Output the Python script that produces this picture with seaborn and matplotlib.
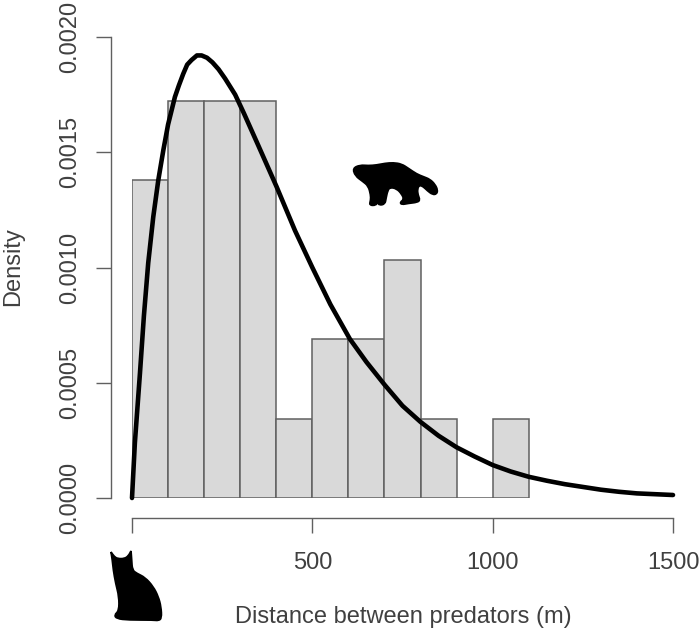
import numpy as np
import pandas as pd
import seaborn as sns
import matplotlib.pyplot as plt
from matplotlib.patches import PathPatch
from matplotlib.path import Path

# histogram: counts in 100 m bins
bin_edges = [0, 100, 200, 300, 400, 500, 600, 700, 800, 900, 1000, 1100]
bin_counts = [4, 5, 5, 5, 1, 2, 2, 3, 1, 0, 1]

# fitted curve
curve_x = [0, 4, 8, 15, 22, 33, 45, 59, 73, 87, 100, 119, 130, 142, 153, 165, 180, 193, 208, 223, 240, 258,
           286, 310, 350, 401, 452, 500, 550, 604, 650, 701, 750, 800, 850, 900, 950, 1000,
           1050, 1100, 1150, 1200, 1250, 1300, 1350, 1400, 1500]
curve_y = [0, 0.00012, 0.00024, 0.00039, 0.00054, 0.00079, 0.00102, 0.00122, 0.00138, 0.00151,
           0.00162, 0.00174, 0.00179, 0.00184, 0.00188, 0.00190, 0.00192, 0.00192, 0.00191, 0.00189, 0.00186,
           0.00182, 0.00175, 0.00167, 0.00153, 0.00135, 0.00116, 0.00100, 0.00084, 0.00069,
           0.00059, 0.00049, 0.00040, 0.00033, 0.00027, 0.00022, 0.00018, 0.000143, 0.000115,
           0.000092, 0.000075, 0.00006, 0.000048, 0.000036, 0.000027, 0.00002, 0.000013]

x_ticks = [0, 500, 1000, 1500]
x_tick_labels = ['', '500', '1000', '1500']
y_ticks = [0, 0.0005, 0.0010, 0.0015, 0.0020]
y_tick_labels = ['0.0000', '0.0005', '0.0010', '0.0015', '0.0020']

# silhouette outlines in image pixels x3, duplicates keep a corner sharp
wolverine = [(38, 55), (60, 45), (85, 47), (110, 45), (135, 40), (160, 38), (185, 42), (205, 55),
             (230, 72), (250, 80), (270, 88), (285, 103), (293, 120), (290, 132), (278, 134),
             (262, 122), (250, 110), (238, 105), (232, 118), (234, 135), (240, 150), (232, 157),
             (205, 160), (185, 164), (180, 157), (192, 148), (185, 132), (170, 116), (150, 112),
             (143, 122), (138, 145), (135, 162), (118, 166), (112, 156), (108, 166), (88, 166),
             (92, 150), (92, 135), (85, 108), (68, 94), (46, 78)]
lynx = [(48, 36), (48, 36), (58, 50), (68, 56), (88, 56), (100, 48), (108, 33), (108, 33), (110, 60),
        (112, 90), (125, 100), (150, 112), (175, 140), (190, 170), (198, 200), (200, 235), (190, 242),
        (175, 240), (100, 240), (65, 236), (58, 225), (72, 212), (72, 170), (62, 130), (55, 90), (52, 60)]

W, H = 700, 633
sns.set_style('white')
plt.rcParams['font.family'] = ['Liberation Sans', 'DejaVu Sans']
text_col = '#404040'
line_col = '#606060'

fig = plt.figure(figsize=(W / 100, H / 100), dpi=100)
ax = fig.add_axes([132 / W, 1 - 498 / H, (673 - 132) / W, (498 - 37) / H])
ax.patch.set_alpha(0)

centres = [(a + b) / 2 for a, b in zip(bin_edges[:-1], bin_edges[1:])]
hist = pd.DataFrame({'dist': centres, 'n': bin_counts})
sns.histplot(data=hist, x='dist', weights='n', bins=bin_edges, stat='density', ax=ax,
             color='#d9d9d9', edgecolor=line_col, linewidth=1.1, alpha=1)

curve = pd.DataFrame({'x': curve_x, 'y': curve_y})
sns.lineplot(data=curve, x='x', y='y', ax=ax, color='black', linewidth=3.3, errorbar=None)
for l in ax.lines:
    l.set_clip_on(False)
    l.set_solid_capstyle('round')
    l.set_solid_joinstyle('round')

ax.set_xlim(0, 1500)
ax.set_ylim(0, 0.002)
sns.despine(ax=ax)
ax.spines['left'].set_position(('outward', 21.5 * 0.72))
ax.spines['bottom'].set_position(('outward', 19.5 * 0.72))
ax.spines['left'].set_bounds(0, 0.002)
ax.spines['bottom'].set_bounds(0, 1500)
for s in ['left', 'bottom']:
    ax.spines[s].set_color(line_col)
    ax.spines[s].set_linewidth(1.0)

ax.set_xticks(x_ticks)
ax.set_xticklabels(x_tick_labels, fontsize=17, color=text_col)
ax.set_yticks(y_ticks)
ax.set_yticklabels(y_tick_labels, fontsize=17, color=text_col, rotation=90, va='center')
ax.tick_params(axis='x', bottom=True, length=10.5, width=1.0, color=line_col, pad=14)
ax.tick_params(axis='y', left=True, length=10.5, width=1.0, color=line_col, pad=10.5)
ax.set_xlabel('')
ax.set_ylabel('')

fig.text(403 / W, 1 - 617.5 / H, 'Distance between predators (m)', fontsize=17, color=text_col,
         ha='center', va='center')
fig.text(13 / W, 1 - 267 / H, 'Density', fontsize=17, color=text_col, rotation=90,
         ha='center', va='center')


def silhouette(points, x0, y0):
    # rounded outline through the midpoints of the traced points
    pts = np.array([((x0 + px / 3) / W, 1 - (y0 + py / 3) / H) for px, py in points])
    nxt = np.roll(pts, -1, axis=0)
    mids = (pts + nxt) / 2
    verts = [mids[-1]]
    codes = [Path.MOVETO]
    for p, m in zip(pts, mids):
        verts += [p, m]
        codes += [Path.CURVE3, Path.CURVE3]
    fig.add_artist(PathPatch(Path(verts, codes), transform=fig.transFigure, facecolor='black',
                             edgecolor='black', linewidth=1.3))


silhouette(wolverine, 340, 150)
silhouette(lynx, 95, 540)

fig.savefig('out.png', dpi=100)
